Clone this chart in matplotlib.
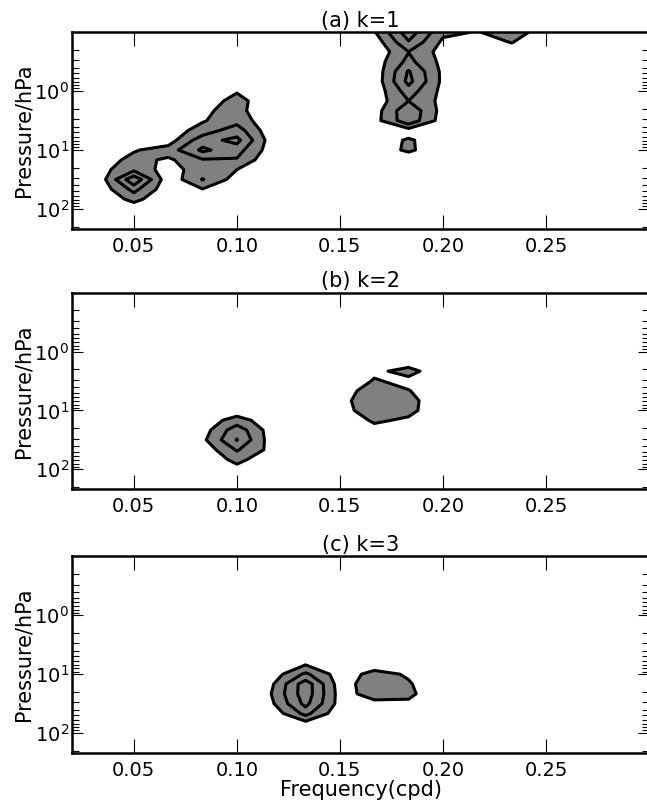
import matplotlib
matplotlib.use("Agg")
import matplotlib.pyplot as plt
import numpy as np
from matplotlib.ticker import (FixedLocator, LogLocator, NullFormatter,
                               LogFormatterSciNotation, FormatStrFormatter)

# frequency grid (cpd) and pressure levels (hPa, top of the plot first)
freq = [0.01667, 0.03333, 0.05, 0.06667, 0.08333, 0.1, 0.11667, 0.13333, 0.15,
        0.16667, 0.18333, 0.2, 0.21667, 0.23333, 0.25, 0.26667, 0.28333, 0.3]
pres = [0.1, 0.1468, 0.2154, 0.3162, 0.4642, 0.6813, 1.0, 1.468, 2.154, 3.162,
        4.642, 6.813, 10.0, 14.68, 21.54, 31.62, 46.42, 68.13, 100.0, 146.8, 215.4]

titles = ["(a) k=1", "(b) k=2", "(c) k=3"]
levels = [1, 2, 3]

# spectral values, rows follow `pres`, columns follow `freq`
z_k1 = [
    [0, 0, 0, 0, 0, 0, 0, 0, 0.3, 0.9, 3.6, 1.2, 0.95, 1.4, 0.6, 0, 0, 0],
    [0, 0, 0, 0, 0, 0, 0, 0, 0, 0.4, 2.9, 0.8, 0.5, 1.05, 0.2, 0, 0, 0],
    [0, 0, 0, 0, 0, 0, 0, 0, 0, 0.2, 1.98, 0.6, 0, 0.4, 0, 0, 0, 0],
    [0, 0, 0, 0, 0, 0, 0, 0, 0, 0.4, 2.3, 0.7, 0, 0, 0, 0, 0, 0],
    [0, 0, 0, 0, 0, 0, 0, 0, 0, 0.3, 3.1, 0.75, 0, 0, 0, 0, 0, 0],
    [0, 0, 0, 0, 0, 0, 0, 0, 0, 0.3, 3.3, 0.75, 0, 0, 0, 0, 0, 0],
    [0, 0, 0, 0, 0.2, 0.9, 0.2, 0, 0, 0.3, 2.5, 0.7, 0, 0, 0, 0, 0, 0],
    [0, 0, 0, 0, 0.2, 1.5, 0, 0, 0, 0.4, 1.99, 0.7, 0, 0, 0, 0, 0, 0],
    [0, 0, 0, 0, 0.8, 1.4, 0, 0, 0, 0.5, 2.8, 0.6, 0, 0, 0, 0, 0, 0],
    [0, 0, 0, 0, 0.9, 1.7, 0.15, 0, 0, 0.6, 2.7, 0.5, 0, 0, 0, 0, 0, 0],
    [0, 0, 0, 0.3, 1.5, 2.5, 0.3, 0, 0, 0.2, 0.5, 0.2, 0, 0, 0, 0, 0, 0],
    [0, 0, 0.2, 0.5, 2.6, 3.3, 0.5, 0, 0, 0.3, 1.15, 0.3, 0, 0, 0, 0, 0, 0],
    [0, 0.1, 0.9, 1.5, 3.2, 2.4, 0.5, 0, 0, 0.5, 1.15, 0.4, 0, 0, 0, 0, 0, 0],
    [0, 0.3, 1.4, 0.8, 1.9, 1.9, 0.2, 0, 0, 0, 0.3, 0, 0, 0, 0, 0, 0, 0],
    [0, 0.6, 1.8, 0.5, 1.6, 1.0, 0.2, 0, 0, 0, 0, 0, 0, 0, 0, 0, 0, 0],
    [0, 0.4, 3.8, 0.3, 2.05, 0.55, 0, 0, 0, 0, 0, 0, 0, 0, 0, 0, 0, 0],
    [0, 0.3, 2.3, 0.3, 0.95, 0.3, 0, 0, 0, 0, 0, 0, 0, 0, 0, 0, 0, 0],
    [0, 0.2, 1.3, 0.2, 0.2, 0, 0, 0, 0, 0, 0, 0, 0, 0, 0, 0, 0, 0],
    [0, 0, 0.3, 0, 0, 0, 0, 0, 0, 0, 0, 0, 0, 0, 0, 0, 0, 0],
    [0, 0, 0, 0, 0, 0, 0, 0, 0, 0, 0, 0, 0, 0, 0, 0, 0, 0],
    [0, 0, 0, 0, 0, 0, 0, 0, 0, 0, 0, 0, 0, 0, 0, 0, 0, 0],
]

z_k2 = [
    [0, 0, 0, 0, 0, 0, 0, 0, 0, 0, 0, 0, 0, 0, 0, 0, 0, 0],
    [0, 0, 0, 0, 0, 0, 0, 0, 0, 0, 0, 0, 0, 0, 0, 0, 0, 0],
    [0, 0, 0, 0, 0, 0, 0, 0, 0, 0, 0, 0, 0, 0, 0, 0, 0, 0],
    [0, 0, 0, 0, 0, 0, 0, 0, 0, 0, 0, 0, 0, 0, 0, 0, 0, 0],
    [0, 0, 0, 0, 0, 0, 0, 0, 0, 0, 0, 0, 0, 0, 0, 0, 0, 0],
    [0, 0, 0, 0, 0, 0, 0, 0, 0, 0, 0, 0, 0, 0, 0, 0, 0, 0],
    [0, 0, 0, 0, 0, 0, 0, 0, 0, 0, 0, 0, 0, 0, 0, 0, 0, 0],
    [0, 0, 0, 0, 0, 0, 0, 0, 0, 0, 0.6, 0, 0, 0, 0, 0, 0, 0],
    [0, 0, 0, 0, 0, 0, 0, 0, 0, 0.8, 1.3, 0.4, 0, 0, 0, 0, 0, 0],
    [0, 0, 0, 0, 0, 0, 0, 0, 0, 1.1, 0.7, 0.2, 0, 0, 0, 0, 0, 0],
    [0, 0, 0, 0, 0, 0, 0, 0, 0.5, 1.5, 1.05, 0.2, 0, 0, 0, 0, 0, 0],
    [0, 0, 0, 0, 0, 0, 0, 0, 0.6, 1.8, 1.35, 0.2, 0, 0, 0, 0, 0, 0],
    [0, 0, 0, 0, 0, 0.4, 0, 0, 0.5, 1.7, 1.3, 0.2, 0, 0, 0, 0, 0, 0],
    [0, 0, 0, 0, 0.3, 1.5, 0.3, 0, 0, 1.2, 0.8, 0, 0, 0, 0, 0, 0, 0],
    [0, 0, 0, 0, 0.5, 2.6, 0.5, 0, 0, 0.5, 0.3, 0, 0, 0, 0, 0, 0, 0],
    [0, 0, 0, 0, 0.75, 3.05, 0.5, 0, 0, 0, 0, 0, 0, 0, 0, 0, 0, 0],
    [0, 0, 0, 0, 0.3, 2.1, 0.7, 0, 0, 0, 0, 0, 0, 0, 0, 0, 0, 0],
    [0, 0, 0, 0, 0.2, 1.3, 0.3, 0, 0, 0, 0, 0, 0, 0, 0, 0, 0, 0],
    [0, 0, 0, 0, 0, 0.6, 0, 0, 0, 0, 0, 0, 0, 0, 0, 0, 0, 0],
    [0, 0, 0, 0, 0, 0, 0, 0, 0, 0, 0, 0, 0, 0, 0, 0, 0, 0],
    [0, 0, 0, 0, 0, 0, 0, 0, 0, 0, 0, 0, 0, 0, 0, 0, 0, 0],
]

z_k3 = [
    [0, 0, 0, 0, 0, 0, 0, 0, 0, 0, 0, 0, 0, 0, 0, 0, 0, 0],
    [0, 0, 0, 0, 0, 0, 0, 0, 0, 0, 0, 0, 0, 0, 0, 0, 0, 0],
    [0, 0, 0, 0, 0, 0, 0, 0, 0, 0, 0, 0, 0, 0, 0, 0, 0, 0],
    [0, 0, 0, 0, 0, 0, 0, 0, 0, 0, 0, 0, 0, 0, 0, 0, 0, 0],
    [0, 0, 0, 0, 0, 0, 0, 0, 0, 0, 0, 0, 0, 0, 0, 0, 0, 0],
    [0, 0, 0, 0, 0, 0, 0, 0, 0, 0, 0, 0, 0, 0, 0, 0, 0, 0],
    [0, 0, 0, 0, 0, 0, 0, 0, 0, 0, 0, 0, 0, 0, 0, 0, 0, 0],
    [0, 0, 0, 0, 0, 0, 0, 0, 0, 0, 0, 0, 0, 0, 0, 0, 0, 0],
    [0, 0, 0, 0, 0, 0, 0, 0, 0, 0, 0, 0, 0, 0, 0, 0, 0, 0],
    [0, 0, 0, 0, 0, 0, 0, 0, 0, 0, 0, 0, 0, 0, 0, 0, 0, 0],
    [0, 0, 0, 0, 0, 0, 0, 0, 0, 0, 0, 0, 0, 0, 0, 0, 0, 0],
    [0, 0, 0, 0, 0, 0, 0, 0.95, 0, 0.6, 0, 0, 0, 0, 0, 0, 0, 0],
    [0, 0, 0, 0, 0, 0, 0.4, 2.2, 0.5, 1.3, 0.9, 0, 0, 0, 0, 0, 0, 0],
    [0, 0, 0, 0, 0, 0, 0.8, 3.6, 0.5, 1.6, 1.1, 0.2, 0, 0, 0, 0, 0, 0],
    [0, 0, 0, 0, 0, 0, 1.0, 3.6, 0.6, 1.4, 1.2, 0.3, 0, 0, 0, 0, 0, 0],
    [0, 0, 0, 0, 0, 0, 0.8, 3.3, 0.6, 0.7, 0.8, 0, 0, 0, 0, 0, 0, 0],
    [0, 0, 0, 0, 0, 0, 0.3, 2.3, 0.3, 0, 0, 0, 0, 0, 0, 0, 0, 0],
    [0, 0, 0, 0, 0, 0, 0, 0.6, 0, 0, 0, 0, 0, 0, 0, 0, 0, 0],
    [0, 0, 0, 0, 0, 0, 0, 0, 0, 0, 0, 0, 0, 0, 0, 0, 0, 0],
    [0, 0, 0, 0, 0, 0, 0, 0, 0, 0, 0, 0, 0, 0, 0, 0, 0, 0],
    [0, 0, 0, 0, 0, 0, 0, 0, 0, 0, 0, 0, 0, 0, 0, 0, 0, 0],
]

plt.rcParams["font.size"] = 14
plt.rcParams["xtick.direction"] = "in"
plt.rcParams["ytick.direction"] = "in"
plt.rcParams["xtick.top"] = True
plt.rcParams["ytick.right"] = True

fig = plt.figure(figsize=(6.47, 8.0), dpi=100)

# axes boxes in figure fractions: [left, bottom, width, height]
boxes = [
    [0.1113, 0.7143, 0.8918, 0.2454],
    [0.1113, 0.3888, 0.8918, 0.2454],
    [0.1113, 0.0591, 0.8918, 0.2454],
]

for i, z in enumerate([z_k1, z_k2, z_k3]):
    ax = fig.add_axes(boxes[i])
    z = np.array(z)
    ax.contourf(freq, pres, z, levels=[levels[0], 100], colors=["0.5"])
    ax.contour(freq, pres, z, levels=levels, colors="k", linewidths=2.2)

    ax.set_yscale("log")
    ax.set_ylim(215.4, 0.1)
    ax.set_xlim(0.02, 0.3)
    ax.yaxis.set_major_locator(FixedLocator([1, 10, 100]))
    ax.yaxis.set_major_formatter(LogFormatterSciNotation())
    ax.yaxis.set_minor_locator(LogLocator(base=10, subs=np.arange(2, 10)))
    ax.yaxis.set_minor_formatter(NullFormatter())
    ax.xaxis.set_major_locator(FixedLocator([0.05, 0.10, 0.15, 0.20, 0.25]))
    ax.xaxis.set_major_formatter(FormatStrFormatter("%.2f"))

    ax.tick_params(axis="x", which="major", length=10, width=0.8, pad=6)
    ax.tick_params(axis="y", which="major", length=8, width=0.8, pad=2)
    ax.tick_params(axis="y", which="minor", length=5, width=0.8)
    for sp in ax.spines.values():
        sp.set_linewidth(1.8)

    ax.set_title(titles[i], fontsize=15, pad=4)
    ax.set_ylabel("Pressure/hPa", fontsize=15, labelpad=1)

ax.set_xlabel("Frequency(cpd)", fontsize=15, labelpad=0)

fig.savefig("out.png", dpi=100)
